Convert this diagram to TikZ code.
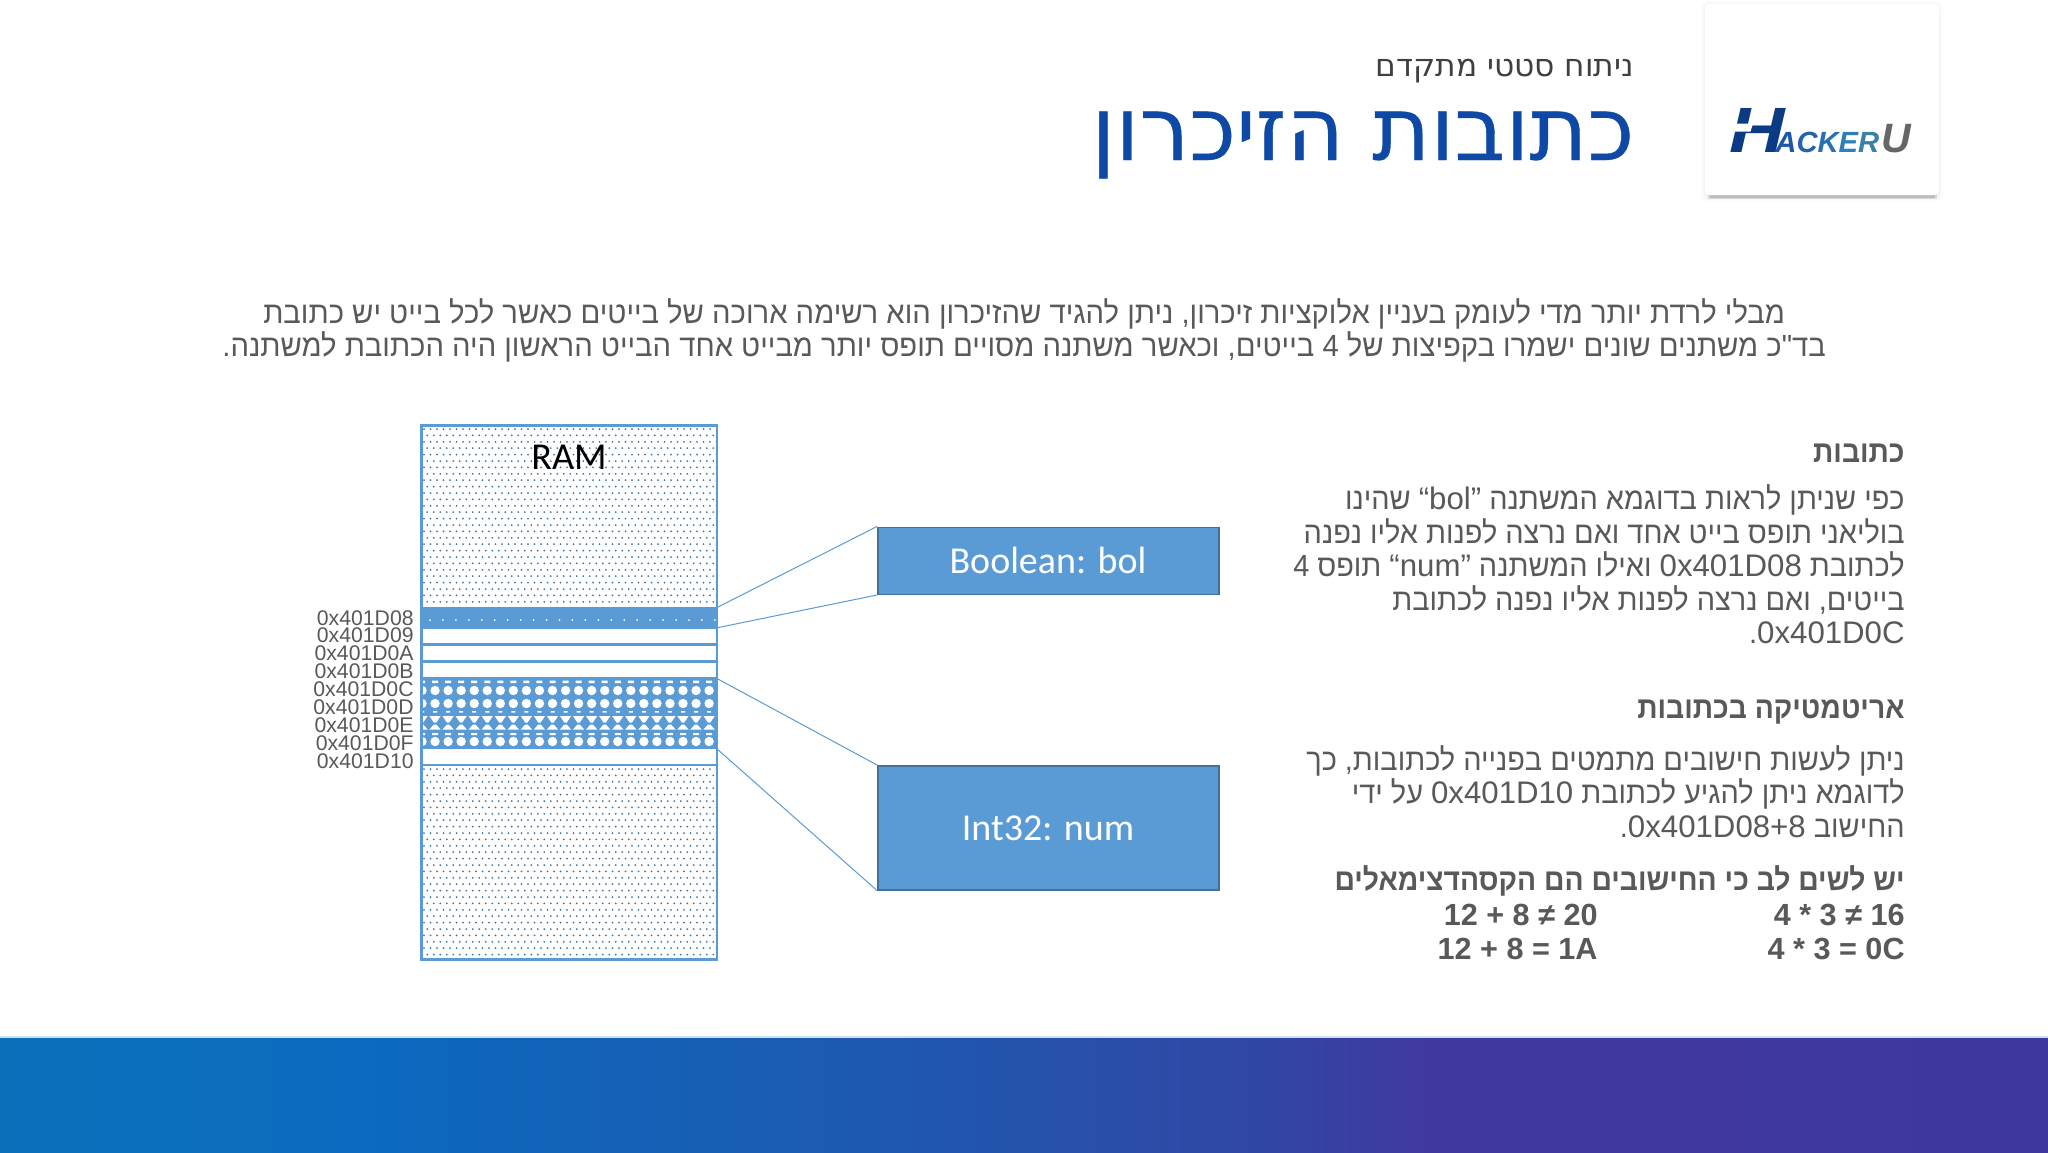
\documentclass[tikz,border=0pt]{standalone}
\usepackage{fontspec}
\setmainfont{Liberation Sans}
\newfontfamily\heb[Script=Hebrew,FakeStretch=0.945]{Liberation Sans}
\newfontfamily\hebp[Script=Hebrew,FakeStretch=0.955]{Liberation Sans}
\newfontfamily\hebb[Script=Hebrew,FakeStretch=0.925]{Liberation Sans}
\newfontfamily\titlefont[Script=Hebrew]{DejaVu Sans}
\newfontfamily\titlebold[Script=Hebrew,FakeBold=0.4]{DejaVu Sans}
\newfontfamily\latfont{Liberation Sans}
\newfontfamily\carl{Carlito}
\TeXXeTstate=1
\newcommand{\ltr}[1]{\beginL{\latfont\fontsize{15.6}{18}\selectfont #1}\endL}
\definecolor{body}{HTML}{595959}
\definecolor{sub}{HTML}{404040}
\definecolor{titleblue}{HTML}{0E4AA5}
\definecolor{rblue}{HTML}{5B9BD5}
\definecolor{rdark}{HTML}{41719C}
\pgfdeclarehorizontalshading{footerfade}{100bp}{
 rgb(0bp)=(0.043,0.44,0.73);
 rgb(25bp)=(0.043,0.44,0.73);
 rgb(34bp)=(0.047,0.415,0.753);
 rgb(47bp)=(0.118,0.345,0.686);
 rgb(56bp)=(0.196,0.275,0.647);
 rgb(60bp)=(0.255,0.22,0.62);
 rgb(75bp)=(0.243,0.22,0.612);
 rgb(100bp)=(0.243,0.22,0.612)}
\tikzset{
 x=0.5pt,y=-0.5pt,
 bodyline/.style={anchor=base east,inner sep=0pt,text=body,font=\fontsize{15.3}{18}\selectfont},
 boldline/.style={bodyline,font=\fontsize{15.3}{18}\selectfont\bfseries},
 parline/.style={anchor=base,inner sep=0pt,text=body,font=\fontsize{15.3}{18}\selectfont},
 addr/.style={anchor=base east,inner sep=0pt,text=body,font=\fontsize{10.6}{12}\selectfont},
 varbox/.style={anchor=north west,inner sep=0pt,fill=rblue,draw=rdark,line width=0.75pt,minimum width=170.5pt,text=white},
 carltext/.style={anchor=base,inner sep=0pt,font=\carl\fontsize{19}{22}\selectfont},
 ramframe/.style={draw=rblue,line width=1.4pt},
 link/.style={draw=rblue,line width=0.5pt},
 logoletter/.style={inner sep=0pt,anchor=base west,font=\bfseries\itshape},
}
\begin{document}
\begin{tikzpicture}
\useasboundingbox (0,0) rectangle (2048,1152);
\fill[white] (0,0) rectangle (2048,1152);
% footer
\shade[shading=footerfade] (0,1037) rectangle (2048,1152);
\fill[white!70!rblue] (0,1036) rectangle (2048,1037.5);
% logo card
\foreach \d/\o in {5/0.012,3/0.018,1.5/0.025}{
 \fill[black,opacity=\o,rounded corners=3pt] (1706-\d,6-\d) rectangle (1938+\d,197+\d);
}
\fill[black,opacity=0.10] (1708,194) rectangle (1937,199);
\fill[black,opacity=0.12] (1710,195) rectangle (1935,197.5);
\fill[white,rounded corners=2pt] (1705,4) rectangle (1939,195);
\node[logoletter,text=titleblue!80!black,font=\bfseries\itshape\fontsize{32}{32}\selectfont,xscale=1.2] (logoH) at (1729,152) {H};
\fill[white] (1736,123.5) -- (1753,123.5) -- (1750.5,131.5) -- (1733.5,131.5) -- cycle;
\node[logoletter,font=\bfseries\itshape\fontsize{14.6}{14}\selectfont] (logoA) at (1775,152) {\textcolor[HTML]{1D57A5}{A}\textcolor[HTML]{2364AD}{C}\textcolor[HTML]{2771B2}{K}\textcolor[HTML]{2C80B8}{E}\textcolor[HTML]{3A80A8}{R}};
\node[logoletter,text=black!60,font=\bfseries\itshape\fontsize{20.5}{20}\selectfont] (logoU) at (1881,152) {U};
% title
\node[anchor=base east,inner sep=0pt,text=sub,font=\titlefont\fontsize{15.6}{18}\selectfont] (subtitle) at (1634,76) {\beginR ניתוח סטטי מתקדם\endR};
\node[anchor=base east,inner sep=0pt,text=titleblue,font=\titlebold\fontsize{44.2}{50}\selectfont] (title) at (1635,160) {\beginR כתובות הזיכרון\endR};
% intro
\node[parline] (p1) at (1024,323) {\hebp\beginR מבלי לרדת יותר מדי לעומק בעניין אלוקציות זיכרון, ניתן להגיד שהזיכרון הוא רשימה ארוכה של בייטים כאשר לכל בייט יש כתובת\endR};
\node[parline] (p2) at (1024,356) {\hebp\beginR בד"כ משתנים שונים ישמרו בקפיצות של 4 בייטים, וכאשר משתנה מסויים תופס יותר מבייט אחד הבייט הראשון היה הכתובת למשתנה.\endR};
% RAM dots
\begin{scope}
\clip (421,425) rectangle (716,958);
\foreach \ya/\yb in {425/608,765/958}{
 \pgfmathtruncatemacro{\nrows}{(\yb-\ya)/6.4}
 \foreach \j in {0,...,\nrows}{
  \pgfmathsetmacro{\yy}{\ya+4+6.4*\j}
  \pgfmathsetmacro{\off}{mod(\j,2)*3.25}
  \fill[rblue!75!black] \foreach \i in {0,...,46}{ ({424+\off+6.5*\i},\yy) circle[radius=1] };
 }
}
\end{scope}
% RAM bands
\fill[rblue] (420,608) rectangle (716,628);
\fill[white] \foreach \i in {0,...,22}{ ({430+12.95*\i},620) circle[radius=1] };
\fill[rblue] (420,678) rectangle (716,748);
\begin{scope}
\clip (421,678) rectangle (715,748);
\fill[white] \foreach \i in {0,...,22}{
 ({422+13.05*\i},690.5) circle[radius=4.7]
 ({422+13.05*\i},703.5) circle[radius=4.7]
 ({422+13.05*\i},741.5) circle[radius=4.7]
 ({422+13.05*\i-3},680.5) rectangle ({422+13.05*\i+3},683)
 ({422+13.05*\i-2},711) rectangle ({422+13.05*\i+2},712.5)
 ({422+13.05*\i-5.6},716) -- ({422+13.05*\i+5.6},716) -- ({422+13.05*\i+1.2},722.5) -- ({422+13.05*\i-1.2},722.5) -- cycle
 ({422+13.05*\i-1.2},724.5) -- ({422+13.05*\i+1.2},724.5) -- ({422+13.05*\i+5.6},729.5) -- ({422+13.05*\i-5.6},729.5) -- cycle
 ({422+13.05*\i-3},733) rectangle ({422+13.05*\i+3},735)
 };
\end{scope}
% RAM row separators
\draw[rblue,line width=1.3pt] (420,608) -- (716,608) (420,628) -- (716,628) (420,644.5) -- (716,644.5) (420,661.5) -- (716,661.5) (420,678) -- (716,678) (420,748) -- (716,748) (420,765) -- (716,765);
\node[ramframe,anchor=north west,inner sep=0pt,minimum width=147.8pt,minimum height=267pt] (ram) at (420,424) {};
\node[carltext,text=black] (ramlabel) at (569,469) {RAM};
% addresses
\node[addr] (a08) at (414,625) {0x401D08};
\node[addr] (a09) at (414,642.5) {0x401D09};
\node[addr] (a0a) at (414,660.5) {0x401D0A};
\node[addr] (a0b) at (414,678) {0x401D0B};
\node[addr] (a0c) at (414,696) {0x401D0C};
\node[addr] (a0d) at (414,714) {0x401D0D};
\node[addr] (a0e) at (414,732) {0x401D0E};
\node[addr] (a0f) at (414,750) {0x401D0F};
\node[addr] (a10) at (414,768) {0x401D10};
% variable boxes
\node[varbox,minimum height=33.5pt] (bool) at (877,526.5) {};
\node[varbox,minimum height=62pt] (int) at (877,765) {};
\node[carltext,text=white] (boollabel) at (1048,573) {Boolean: bol};
\node[carltext,text=white] (intlabel) at (1048,840) {Int32: num};
\coordinate (r1) at (716,608);
\coordinate (r2) at (716,628);
\coordinate (r3) at (716,678);
\coordinate (r4) at (716,748);
\draw[link] (r1) -- (bool.north west);
\draw[link] (r2) -- (bool.south west);
\draw[link] (r3) -- (int.north west);
\draw[link] (r4) -- (int.south west);
% right column
\node[boldline] (h1) at (1905,462) {\hebb\bfseries\beginR כתובות\endR};
\node[bodyline] (t1) at (1905,509) {\heb\beginR כפי שניתן לראות בדוגמא המשתנה \ltr{“bol”} שהינו\endR};
\node[bodyline] (t2) at (1905,543) {\heb\beginR בוליאני תופס בייט אחד ואם נרצה לפנות אליו נפנה\endR};
\node[bodyline] (t3) at (1905,576) {\heb\beginR לכתובת \ltr{0x401D08} ואילו המשתנה \ltr{“num”} תופס 4\endR};
\node[bodyline] (t4) at (1905,610) {\heb\beginR בייטים, ואם נרצה לפנות אליו נפנה לכתובת\endR};
\node[bodyline] (t5) at (1905,643) {\heb\beginR\ltr{0x401D0C}.\endR};
\node[boldline] (h2) at (1905,718) {\hebb\bfseries\beginR אריטמטיקה בכתובות\endR};
\node[bodyline] (t6) at (1905,770) {\heb\beginR ניתן לעשות חישובים מתמטים בפנייה לכתובות, כך\endR};
\node[bodyline] (t7) at (1905,803) {\heb\beginR לדוגמא ניתן להגיע לכתובת \ltr{0x401D10} על ידי\endR};
\node[bodyline] (t8) at (1905,837) {\heb\beginR החישוב \ltr{0x401D08+8}.\endR};
\node[boldline] (n1) at (1905,890) {\hebb\bfseries\beginR יש לשים לב כי החישובים הם הקסהדצימאלים\endR};
\node[boldline] (m1) at (1905,925) {4 * 3 ≠ 16};
\node[boldline] (m2) at (1598,925) {12 + 8 ≠ 20};
\node[boldline] (m3) at (1905,959) {4 * 3 = 0C};
\node[boldline] (m4) at (1598,959) {12 + 8 = 1A};
\end{tikzpicture}
\end{document}
